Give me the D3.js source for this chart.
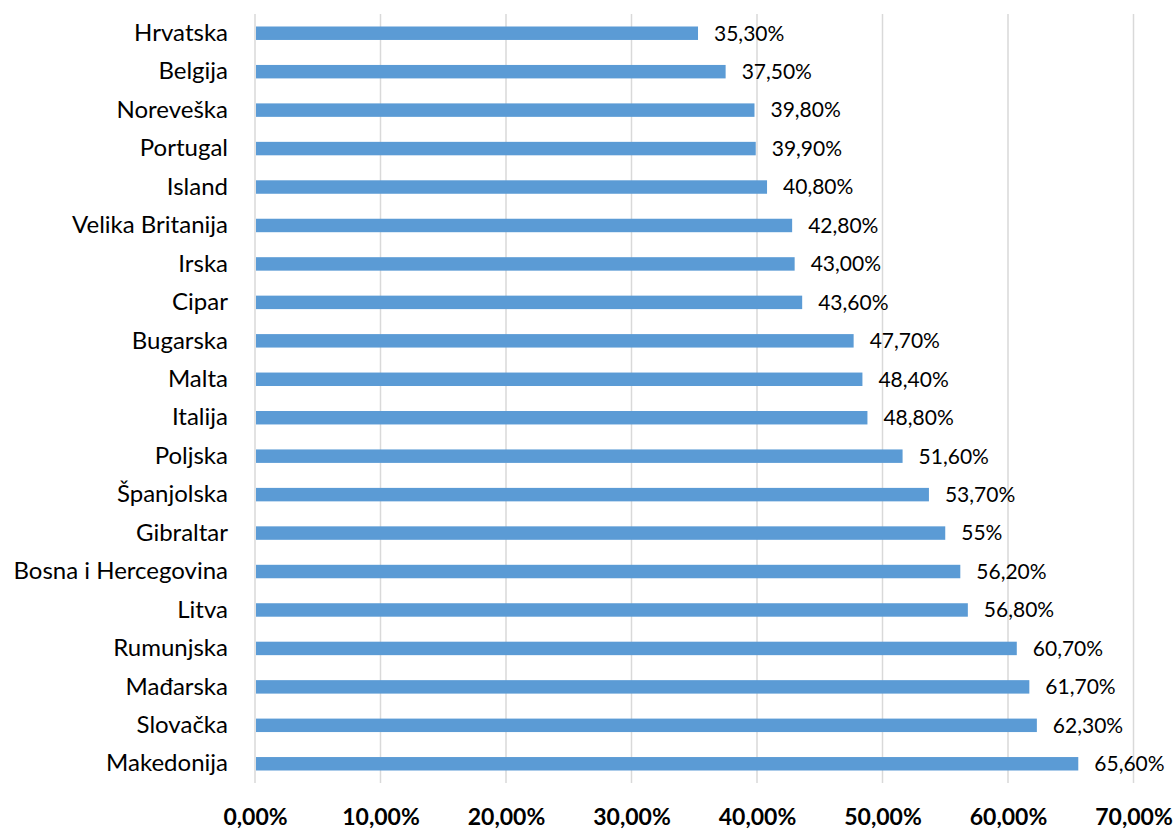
<!DOCTYPE html>
<html><head><meta charset="utf-8">
<script src="https://cdn.jsdelivr.net/npm/d3@7"></script>
<style>body{margin:0;background:#fff}svg{display:block}</style>
</head><body>
<svg id="c" width="1176" height="830"></svg>
<script>
const categories = ["Hrvatska","Belgija","Noreveška","Portugal","Island","Velika Britanija","Irska","Cipar","Bugarska","Malta","Italija","Poljska","Španjolska","Gibraltar","Bosna i Hercegovina","Litva","Rumunjska","Mađarska","Slovačka","Makedonija"];
const values = [35.3,37.5,39.8,39.9,40.8,42.8,43.0,43.6,47.7,48.4,48.8,51.6,53.7,55,56.2,56.8,60.7,61.7,62.3,65.6];
const valueLabels = ["35,30%","37,50%","39,80%","39,90%","40,80%","42,80%","43,00%","43,60%","47,70%","48,40%","48,80%","51,60%","53,70%","55%","56,20%","56,80%","60,70%","61,70%","62,30%","65,60%"];
const tickValues = [0,10,20,30,40,50,60,70];
const tickLabels = ["0,00%","10,00%","20,00%","30,00%","40,00%","50,00%","60,00%","70,00%"];

const font = "Lato, 'Open Sans', sans-serif";
const svg = d3.select("#c");
const x = d3.scaleLinear().domain([0,70]).range([255,1133.5]);
const y = d3.scaleBand().domain(categories).range([14,783]).paddingInner(0.65).paddingOuter(0.325);

// gridlines
svg.append("g").selectAll("line").data(tickValues).join("line")
  .attr("x1",d=>x(d)).attr("x2",d=>x(d)).attr("y1",14).attr("y2",783)
  .attr("stroke","#d9d9d9").attr("stroke-width",1.5);

// bars
svg.append("g").selectAll("rect").data(categories).join("rect")
  .attr("x",x(0)+1).attr("y",d=>y(d))
  .attr("width",(d,i)=>x(values[i])-x(0)-1).attr("height",y.bandwidth())
  .attr("fill","#5B9BD5");

// value labels
svg.append("g").selectAll("text").data(categories).join("text")
  .attr("x",(d,i)=>x(values[i])+16).attr("y",d=>y(d)+y.bandwidth()/2)
  .attr("dy","0.35em").attr("font-family",font).attr("font-size",21)
  .attr("fill","#000").text((d,i)=>valueLabels[i]);

// category axis
const ya = d3.axisLeft(y).tickSize(0).tickPadding(27);
const gy = svg.append("g").attr("transform",`translate(${x(0)},0)`).call(ya);
gy.select(".domain").remove();
gy.selectAll("text").attr("font-family",font).attr("font-size",24).attr("fill","#000");

// x axis
const xa = d3.axisBottom(x).tickValues(tickValues).tickSize(0).tickPadding(0)
  .tickFormat((d,i)=>tickLabels[i]);
const gx = svg.append("g").attr("transform",`translate(0,817)`).call(xa);
gx.select(".domain").remove();
gx.selectAll("text").attr("font-family",font).attr("font-size",23).attr("font-weight","bold")
  .attr("fill","#000").attr("dy","0.35em");
</script>
</body></html>
